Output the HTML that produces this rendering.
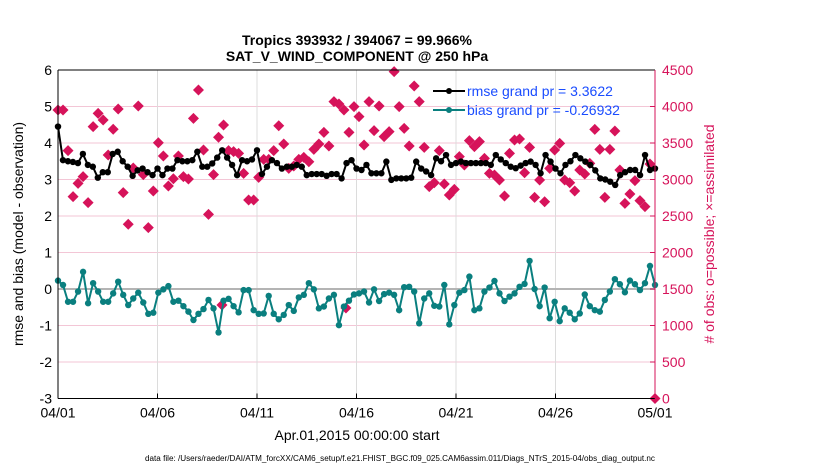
<!DOCTYPE html>
<html><head><meta charset="utf-8"><style>
body{margin:0;background:#fff;font-family:"Liberation Sans",sans-serif}
svg text{font-family:"Liberation Sans",sans-serif}
</style></head><body>
<svg id="chart" width="830" height="470" viewBox="0 0 830 470" xmlns="http://www.w3.org/2000/svg">
<rect width="830" height="470" fill="#fff"/>
<g id="grid"></g>
<g id="series"></g>
<g id="axes"></g>
<text x="357" y="45" text-anchor="middle" font-size="14" font-weight="bold">Tropics 393932 / 394067 = 99.966%</text>
<text x="357" y="61" text-anchor="middle" font-size="14" font-weight="bold">SAT_V_WIND_COMPONENT @ 250 hPa</text>
<text transform="translate(23,234) rotate(-90)" text-anchor="middle" font-size="14">rmse and bias (model - observation)</text>
<text transform="translate(714,234) rotate(-90)" text-anchor="middle" font-size="14" fill="#d6135a"># of obs: o=possible; ×=assimilated</text>
<text x="357" y="440" text-anchor="middle" font-size="14">Apr.01,2015 00:00:00 start</text>
<text x="145" y="461" font-size="8" textLength="510" lengthAdjust="spacingAndGlyphs">data file: /Users/raeder/DAI/ATM_forcXX/CAM6_setup/f.e21.FHIST_BGC.f09_025.CAM6assim.011/Diags_NTrS_2015-04/obs_diag_output.nc</text>
<g>
<line x1="433" y1="91" x2="465" y2="91" stroke="#000" stroke-width="2"/><circle cx="449" cy="91" r="3" fill="#000"/>
<text x="467" y="96" font-size="14" fill="#1a4cff">rmse grand pr = 3.3622</text>
<line x1="433" y1="110" x2="465" y2="110" stroke="#0a7f7f" stroke-width="2"/><circle cx="449" cy="110" r="3" fill="#0a7f7f"/>
<text x="467" y="115" font-size="14" fill="#1a4cff">bias grand pr = -0.26932</text>
</g>
</svg>
<script>
const dateTicks=["04/01","04/06","04/11","04/16","04/21","04/26","05/01"];
const leftTicks=[6,5,4,3,2,1,0,-1,-2,-3];
const rightTicks=[4500,4000,3500,3000,2500,2000,1500,1000,500,0];
const rmse=[4.45,3.53,3.5,3.48,3.45,3.7,3.4,3.35,3.05,3.2,3.2,3.7,3.76,3.5,3.35,3.1,3.25,3.3,3.2,3.12,3.3,3.12,3.3,3.3,3.53,3.5,3.5,3.53,3.76,3.35,3.35,3.44,3.6,3.8,3.6,3.4,3.12,3.53,3.5,3.55,3.8,3.15,3.35,3.53,3.45,3.3,3.35,3.35,3.4,3.35,3.12,3.15,3.15,3.15,3.1,3.15,3.15,3.03,3.45,3.53,3.3,3.26,3.4,3.17,3.17,3.17,3.49,2.99,3.03,3.03,3.03,3.05,3.49,3.3,3.22,3.12,3.58,3.5,3.67,3.4,3.45,3.49,3.45,3.45,3.45,3.45,3.45,3.4,3.67,3.55,3.45,3.35,3.31,3.38,3.45,3.49,3.4,3.17,3.67,3.49,3.3,3.17,3.4,3.5,3.67,3.58,3.49,3.4,3.25,3.03,3.0,2.94,2.85,3.12,3.2,3.26,3.26,3.12,3.67,3.26,3.3];
const bias=[0.23,0.11,-0.35,-0.35,-0.07,0.47,-0.39,0.16,-0.07,-0.35,-0.35,-0.12,0.2,-0.16,-0.44,-0.26,-0.1,-0.37,-0.68,-0.65,-0.1,-0.01,0.08,-0.35,-0.32,-0.47,-0.62,-0.85,-0.68,-0.55,-0.30,-0.53,-1.19,-0.32,-0.27,-0.47,-0.64,-0.03,-0.03,-0.58,-0.68,-0.67,-0.19,-0.68,-0.83,-0.71,-0.44,-0.60,-0.23,-0.16,0.16,-0.01,-0.53,-0.48,-0.26,-0.16,-0.99,-0.48,-0.32,-0.15,-0.12,-0.07,-0.37,-0.01,-0.33,-0.14,-0.1,-0.16,-0.58,0.05,0.06,-0.07,-0.94,-0.26,-0.12,-0.46,-0.48,0.11,-0.97,-0.44,-0.1,-0.03,0.34,-0.58,-0.53,-0.07,0.04,0.22,-0.12,-0.33,-0.21,-0.12,0.06,0.14,0.77,0,-0.47,0.04,-0.8,-0.35,-0.88,-0.53,-0.65,-0.83,-0.67,-0.15,-0.47,-0.58,-0.62,-0.3,-0.07,0.27,0.13,-0.09,0.23,0.13,-0.03,0.16,0.63,0.11];
const assimilated=[3952,3952,3395,2765,2947,3039,2683,3724,3906,3815,3336,3688,3966,2820,2387,3158,4007,3067,2340,2842,3504,3322,2911,3011,3322,3039,3007,3838,4226,3404,2522,3067,3578,3747,3395,3381,3358,3084,2719,2719,3029,3276,3276,3395,3737,3486,3153,3185,3276,3303,3244,3413,3486,3646,3459,4066,4034,3952,3646,3998,3861,3472,4066,3669,4007,3587,3655,4477,3998,3701,3459,4281,4066,3440,2902,2956,3395,2938,2787,2865,3313,3198,3532,3450,3518,3290,3084,3061,2993,2774,3358,3541,3555,3093,3440,2755,2993,2696,3153,3404,3495,2993,2956,2842,3130,3075,3221,3687,3413,2755,3413,3664,3130,2673,2801,2984,2710,2628,3212,0];
const outlierDays=[8.24,14.47];
const outlierCounts=[1281,1240];

const X0=58,X1=655,Y0=70,Y1=398.5,NS="http://www.w3.org/2000/svg";
const xDay=d=>X0+d/30*(X1-X0);
const yL=v=>Y0+(6-v)/9*(Y1-Y0);
const yR=v=>Y1-v/4500*(Y1-Y0);
function mk(tag,attrs,parent){const e=document.createElementNS(NS,tag);for(const k in attrs)e.setAttribute(k,attrs[k]);parent.appendChild(e);return e;}
const grid=document.getElementById('grid'),ser=document.getElementById('series'),ax=document.getElementById('axes');
leftTicks.forEach(v=>{const l=mk('line',{x1:X0,x2:X1,y1:yL(v),y2:yL(v),stroke:'#f3c6d6','stroke-width':1},grid);


const t=mk('text',{x:X0-6,y:yL(v)+5,'text-anchor':'end','font-size':14},ax);t.textContent=v;

});
rightTicks.forEach(v=>{const t=mk('text',{x:X1+7,y:yR(v)+5,'font-size':14,fill:'#d6135a'},ax);t.textContent=v;


mk('line',{x1:X1-5,x2:X1,y1:yR(v),y2:yR(v),stroke:'#d6135a'},ax);});
dateTicks.forEach((s,i)=>{const x=xDay(i*5);const l=mk('line',{x1:x,x2:x,y1:Y0,y2:Y1,stroke:'#dcdcdc'},grid);


mk('line',{x1:x,x2:x,y1:Y1,y2:Y1-5,stroke:'#000'},ax);
const t=mk('text',{x:x,y:Y1+19,'text-anchor':'middle','font-size':14},ax);t.textContent=s;

});
const z=mk('line',{x1:X0,x2:X1,y1:yL(0),y2:yL(0),stroke:'#b4b4b4','stroke-width':2},grid);


function diamond(x,y){const p=mk('path',{d:`M${x} ${y-5.5}L${x+5.5} ${y}L${x} ${y+5.5}L${x-5.5} ${y}Z`,fill:'#d6135a'},ser);

}
assimilated.forEach((v,i)=>diamond(xDay(i*30/(assimilated.length-1)),yR(v)));
outlierDays.forEach((d,i)=>diamond(xDay(d),yR(outlierCounts[i])));
function line(arr,col,name){const pts=arr.map((v,i)=>[xDay(i*30/(arr.length-1)),yL(v)]);
const pl=mk('polyline',{points:pts.map(p=>p.join(',')).join(' '),fill:'none',stroke:col,'stroke-width':2},ser);


pts.forEach(p=>{const c=mk('circle',{cx:p[0],cy:p[1],r:3.2,fill:col},ser);

});}
line(rmse,'#000','rmse');
line(bias,'#0a7f7f','bias');
mk('line',{x1:X0,x2:X1,y1:Y0,y2:Y0,stroke:'#000'},ax);
mk('line',{x1:X0,x2:X1,y1:Y1,y2:Y1,stroke:'#000'},ax);
mk('line',{x1:X0,x2:X0,y1:Y0,y2:Y1,stroke:'#000'},ax);
mk('line',{x1:X1,x2:X1,y1:Y0,y2:Y1,stroke:'#d6135a'},ax);
</script>
</body></html>
